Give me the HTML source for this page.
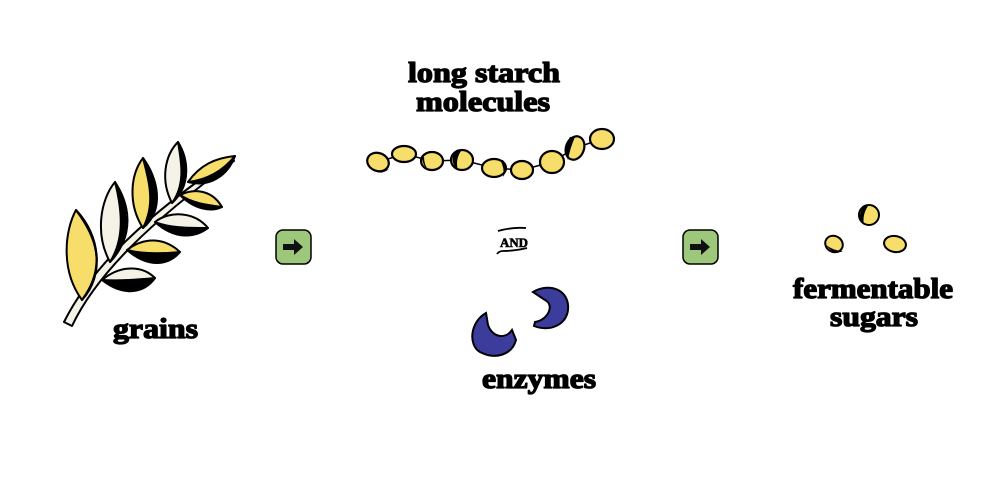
<!DOCTYPE html>
<html><head><meta charset="utf-8"><style>
html,body{margin:0;padding:0;background:#fff;}
svg{display:block}
text{font-family:"Liberation Serif",serif;font-weight:bold;fill:#000;stroke:#000;stroke-width:1.3;stroke-linejoin:round}
</style></head><body>
<svg width="1000" height="500" viewBox="0 0 1000 500" xmlns="http://www.w3.org/2000/svg">
<rect width="1000" height="500" fill="#fff"/>
<g stroke="#000" stroke-width="2" stroke-linejoin="round">
  <path d="M64,322 C90,270 140,220 232,157 L234,161 C150,222 96,275 72,326 Z" fill="#f5f2e8"/>
  <g>
    <path d="M82,300 C60,270 65,230 76,210 C95,235 108,265 82,300 Z" fill="#f7dd6a"/>
    <path d="M82,300 C105,275 100,235 76,210 C95,235 108,265 82,300 Z" fill="#000"/>
  </g>
  <g>
    <path d="M110,262 C95,235 100,200 115,182 C130,205 135,235 110,262 Z" fill="#f5f2e8"/>
    <path d="M110,262 C132,240 128,205 115,182 C122,210 125,238 110,262 Z" fill="#000"/>
  </g>
  <g>
    <path d="M143,228 C128,205 130,175 143,158 C155,180 160,205 143,228 Z" fill="#f7dd6a"/>
    <path d="M143,228 C165,210 158,178 143,158 C150,185 155,205 143,228 Z" fill="#000"/>
  </g>
  <g>
    <path d="M172,203 C160,180 165,155 178,142 C188,162 190,185 172,203 Z" fill="#f5f2e8"/>
    <path d="M172,203 C192,185 188,158 178,142 C182,165 185,185 172,203 Z" fill="#000"/>
  </g>
  <g>
    <path d="M188,182 C200,165 215,158 235,156 C225,175 210,185 188,182 Z" fill="#f7dd6a"/>
    <path d="M188,182 C210,188 228,175 235,156 C222,172 205,180 188,182 Z" fill="#000"/>
  </g>
  <g>
    <path d="M180,195 C195,188 212,190 222,207 C205,205 192,203 180,195 Z" fill="#f7dd6a"/>
    <path d="M180,195 C195,210 212,212 222,207 C205,205 192,203 180,195 Z" fill="#000"/>
  </g>
  <g>
    <path d="M155,222 C170,210 195,212 208,228 C188,228 170,228 155,222 Z" fill="#f5f2e8"/>
    <path d="M155,222 C175,240 195,238 208,228 C190,230 170,230 155,222 Z" fill="#000"/>
  </g>
  <g>
    <path d="M127,250 C145,236 165,238 180,252 C160,254 142,254 127,250 Z" fill="#f7dd6a"/>
    <path d="M127,250 C148,268 168,266 180,252 C162,255 142,255 127,250 Z" fill="#000"/>
  </g>
  <g>
    <path d="M102,280 C120,265 142,265 155,278 C135,280 118,281 102,280 Z" fill="#f5f2e8"/>
    <path d="M102,280 C125,298 145,292 155,278 C137,282 118,283 102,280 Z" fill="#000"/>
  </g>
</g>
<text x="113" y="338" font-size="28" textLength="85" lengthAdjust="spacingAndGlyphs">grains</text>

<g>
  <rect x="276" y="230" width="35" height="34" rx="7" fill="#9dc77a" stroke="#000" stroke-width="1.5"/>
  <path d="M283,244 h11 v-5 l9,8 l-9,8 v-5 h-11 z" fill="#111"/>
  <rect x="683" y="230" width="35" height="34" rx="7" fill="#9dc77a" stroke="#000" stroke-width="1.5"/>
  <path d="M690,244 h11 v-5 l9,8 l-9,8 v-5 h-11 z" fill="#111"/>
</g>

<text x="408" y="82" font-size="28" textLength="152" lengthAdjust="spacingAndGlyphs">long starch</text>
<text x="416" y="111" font-size="28" textLength="134" lengthAdjust="spacingAndGlyphs">molecules</text>
<polyline points="378,162 404,154 432,161 462,160 494,168 522,170 552,162 575,148 602,139" fill="none" stroke="#000" stroke-width="1.5"/>
<g fill="#f7dd6a" stroke="#000" stroke-width="2.2">
  <ellipse cx="378" cy="162" rx="11" ry="9" transform="rotate(20 378 162)"/>
  <ellipse cx="404" cy="154" rx="12" ry="8"/>
  <ellipse cx="432" cy="161" rx="11" ry="9"/>
  <ellipse cx="462" cy="160" rx="11" ry="10"/>
  <ellipse cx="494" cy="168" rx="12" ry="9"/>
  <ellipse cx="522" cy="170" rx="11" ry="9"/>
  <ellipse cx="552" cy="162" rx="12" ry="11"/>
  <ellipse cx="575" cy="148" rx="9" ry="12" transform="rotate(20 575 148)"/>
  <ellipse cx="602" cy="139" rx="12" ry="10"/>
</g>
<g fill="#000">
  <path d="M367,165 Q378,178 389,169 Q378,174 367,165Z"/>
  <path d="M455,151 Q449,162 458,170 Q455,160 461,151Z"/>
  <path d="M503,160 Q509,168 503,177 Q505,168 500,160Z"/>
  <path d="M570,137 Q563,148 568,160 Q570,148 575,137Z"/>
  <path d="M422,158 Q423,166 428,170 Q424,164 424,157Z"/>
</g>

<path d="M498,231 q14,-4 28,-3" stroke="#000" stroke-width="1.8" fill="none"/>
<text x="500" y="247" font-size="13" font-family="Liberation Sans" textLength="28" lengthAdjust="spacingAndGlyphs" style="stroke-width:0.6">AND</text>
<path d="M497,254 q2,-3 6,-3 q12,0 24,-3" stroke="#000" stroke-width="1.8" fill="none"/>

<g fill="#3c3c9c" stroke="#000" stroke-width="2">
  <path d="M486,313 C470,322 468,345 480,352 C495,360 512,355 516,340 L512,330 C505,340 492,337 488,325 Z"/>
  <path d="M533,292 C550,282 570,290 568,310 C566,325 550,332 534,326 L535,322 C548,320 555,305 545,300 Z"/>
</g>
<text x="482" y="388" font-size="28" textLength="114" lengthAdjust="spacingAndGlyphs">enzymes</text>

<g stroke="#000" stroke-width="2" fill="#f7dd6a">
  <ellipse cx="869" cy="215" rx="10" ry="10"/>
  <ellipse cx="834" cy="244" rx="9" ry="8" transform="rotate(30 834 244)"/>
  <ellipse cx="895" cy="244" rx="11" ry="8" transform="rotate(10 895 244)"/>
</g>
<path d="M864,206 Q856,216 864,225 Q862,215 868,206Z" fill="#000"/>
<path d="M826,245 Q834,256 843,251 Q834,251 826,245Z" fill="#000"/>
<text x="793" y="298" font-size="28" textLength="160" lengthAdjust="spacingAndGlyphs">fermentable</text>
<text x="830" y="326" font-size="28" textLength="88" lengthAdjust="spacingAndGlyphs">sugars</text>
</svg>
</body></html>
